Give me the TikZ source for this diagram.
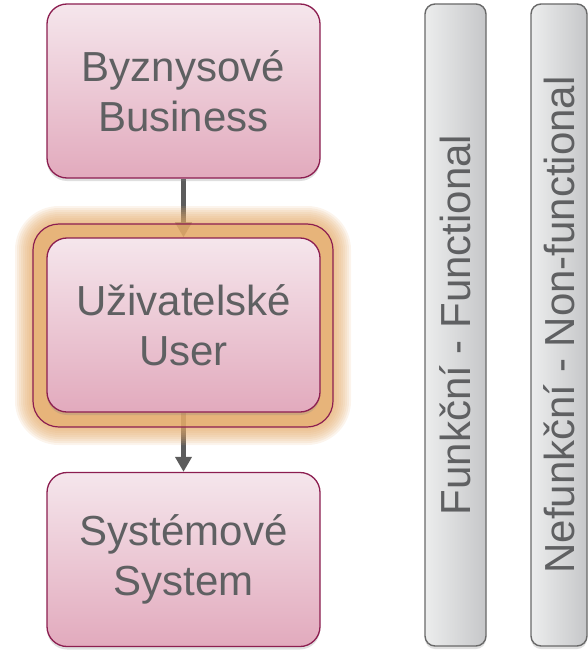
\documentclass[tikz,border=0pt]{standalone}
\usepackage{fontspec}
\setmainfont{Liberation Sans}
\usetikzlibrary{arrows.meta,shadows}
\definecolor{reqtext}{RGB}{95,96,98}
\definecolor{reqedge}{RGB}{140,30,80}
\definecolor{reqtop}{RGB}{245,230,236}
\definecolor{reqbottom}{RGB}{226,170,189}
\definecolor{glowc}{RGB}{228,170,105}
\definecolor{barleft}{RGB}{236,237,237}
\definecolor{barright}{RGB}{198,199,201}
\definecolor{baredge}{RGB}{105,105,105}
\definecolor{arrowc}{RGB}{92,92,92}
\pgfdeclarelayer{background}
\pgfdeclarelayer{glow}
\pgfsetlayers{background,glow,main}
\tikzset{
  reqbox/.style={draw=reqedge, line width=1.3pt, rounded corners=20pt,
    top color=reqtop, bottom color=reqbottom,
    minimum width=273pt, minimum height=174pt, align=center,
    text=reqtext, font=\fontsize{42}{50}\selectfont,
    drop shadow={shadow xshift=0pt, shadow yshift=-3pt, opacity=0.25}},
  kindbar/.style={draw=baredge, line width=1.4pt, rounded corners=10pt,
    left color=barleft, right color=barright, minimum height=642pt,
    text=reqtext, font=\fontsize{42}{50}\selectfont,
    drop shadow={shadow xshift=0pt, shadow yshift=-3pt, opacity=0.25}},
  flow/.style={arrowc, line width=4.5pt, -{Triangle[width=16pt,length=15pt]}}
}
\begin{document}
\begin{tikzpicture}[x=1pt, y=-1pt]
  \useasboundingbox (0,0) rectangle (588,650);
  % levels
  \node[reqbox] (business) at (183.5,91) {Byznysové\\Business};
  \node[reqbox] (user) at (183.5,325) {Uživatelské\\User};
  \node[reqbox] (system) at (183.5,559.5) {Systémové\\System};
  % highlight round the user level
  \node[draw=reqedge, line width=1.2pt, rounded corners=26pt,
    minimum width=300pt, minimum height=203pt] (userframe) at (183,325.5) {};
  \begin{pgfonlayer}{glow}
    \foreach \g in {2,4,...,18}
      \fill[glowc, opacity=0.13, rounded corners=26pt+\g pt]
        (33-\g,224-\g) rectangle (333+\g,427+\g);
    \fill[glowc, opacity=0.6, rounded corners=26pt] (33,224) rectangle (333,427);
  \end{pgfonlayer}
  % flow
  \begin{pgfonlayer}{background}
    \draw[flow] (business.south) -- (user.north);
    \draw[flow] (user.south) -- (system.north);
  \end{pgfonlayer}
  % kinds
  \node[kindbar, minimum width=61pt] (functional) at (455.5,325)
    {\rotatebox{90}{Funkční - Functional}};
  \node[kindbar, minimum width=56pt] (nonfunctional) at (559,325)
    {\rotatebox{90}{Nefunkční - Non-functional}};
\end{tikzpicture}
\end{document}
